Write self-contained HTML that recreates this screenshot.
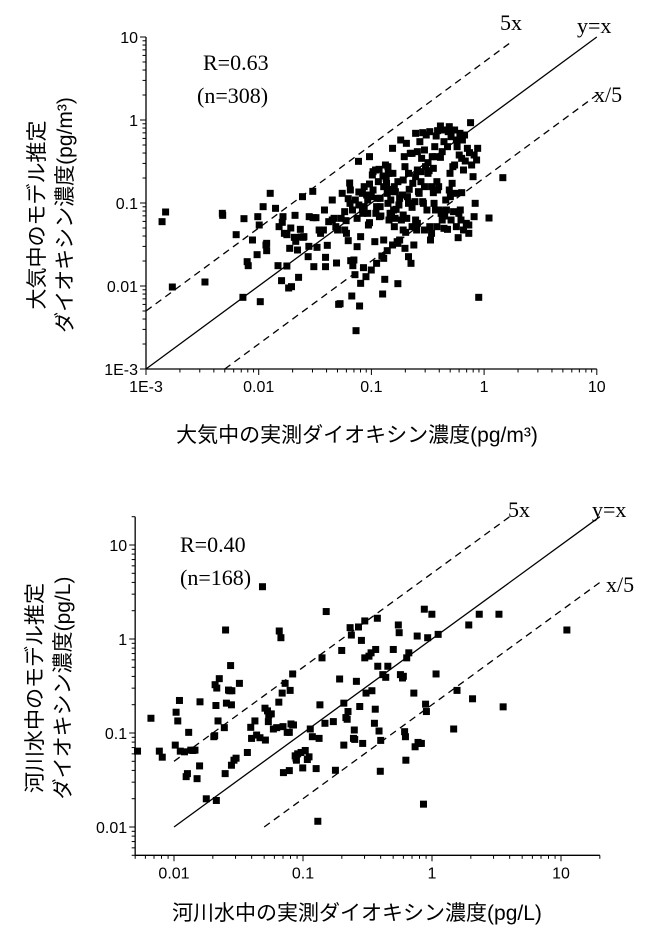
<!DOCTYPE html>
<html><head><meta charset="utf-8">
<style>
body{margin:0;background:#fff;width:650px;height:926px;overflow:hidden}
svg{display:block}
.t{font-family:"Liberation Sans","Noto Sans CJK JP",sans-serif;font-size:16px;fill:#000}
.s{font-family:"Liberation Serif",serif;font-size:22px;fill:#000}
.j{font-family:"Liberation Sans","Noto Sans CJK JP",sans-serif;font-size:21px;fill:#000}
</style></head><body>
<svg id="g" width="650" height="926" xmlns="http://www.w3.org/2000/svg">
<text class="s" x="500" y="30">5x</text>
<text class="s" x="577" y="33">y=x</text>
<text class="s" x="594" y="102">x/5</text>
<text class="s" x="203" y="70">R=0.63</text>
<text class="s" x="197" y="103">(n=308)</text>
<text class="j" x="357" y="442" text-anchor="middle">大気中の実測ダイオキシン濃度(pg/m³)</text>
<text class="j" transform="translate(44,215) rotate(-90)" text-anchor="middle">大気中のモデル推定</text>
<text class="j" transform="translate(72,215) rotate(-90)" text-anchor="middle">ダイオキシン濃度(pg/m³)</text>
<text class="s" x="508" y="517">5x</text>
<text class="s" x="592" y="517">y=x</text>
<text class="s" x="606" y="592">x/5</text>
<text class="s" x="180" y="552">R=0.40</text>
<text class="s" x="180" y="585">(n=168)</text>
<text class="j" x="357" y="920" text-anchor="middle">河川水中の実測ダイオキシン濃度(pg/L)</text>
<text class="j" transform="translate(42,688) rotate(-90)" text-anchor="middle">河川水中のモデル推定</text>
<text class="j" transform="translate(70,688) rotate(-90)" text-anchor="middle">ダイオキシン濃度(pg/L)</text>
</svg>
<script>
(function(){
var S=document.getElementById('g'),NS='http://www.w3.org/2000/svg';
function el(n,a,t){var e=document.createElementNS(NS,n);for(var k in a)e.setAttribute(k,a[k]);if(t!==undefined)e.textContent=t;S.appendChild(e);return e;}
function chart(c){
 var X=function(v){return c.x0+(Math.log10(v)-c.lx0)*c.dx}, Y=function(v){return c.y0-(Math.log10(v)-c.ly0)*c.dy};
 var L=X(c.xmin),R=X(c.xmax),T=Y(c.ymax),B=Y(c.ymin);
 el('line',{x1:L,y1:T,x2:L,y2:B,stroke:'#000','stroke-width':1.3});
 el('line',{x1:L,y1:B,x2:R,y2:B,stroke:'#000','stroke-width':1.3});
 for(var e=-4;e<=2;e++)for(var m=1;m<10;m++){var v=m*Math.pow(10,e);
  if(v>=c.xmin*0.999&&v<=c.xmax*1.001){var x=X(v);el('line',{x1:x,y1:B,x2:x,y2:B+(m==1?6:3.5),stroke:'#000','stroke-width':1});}
  if(v>=c.ymin*0.999&&v<=c.ymax*1.001){var y=Y(v);el('line',{x1:L,y1:y,x2:L-(m==1?6:3.5),y2:y,stroke:'#000','stroke-width':1});}}
 c.xt.forEach(function(p){el('text',{class:'t',x:X(p[0]),y:B+23,'text-anchor':'middle'},p[1]);});
 c.yt.forEach(function(p){el('text',{class:'t',x:L-8,y:Y(p[0])+6,'text-anchor':'end'},p[1]);});
 c.lines.forEach(function(l){el('line',{x1:X(l[0]),y1:Y(l[0]*l[2]),x2:X(l[1]),y2:Y(l[1]*l[2]),stroke:'#000','stroke-width':1.3,'stroke-dasharray':l[3]?'7,5':'none'});});
 c.pts.forEach(function(p){var x=c.fx(p[0]),y=c.fy(p[1]);el('rect',{x:x-3.5,y:y-3.5,width:7,height:7,fill:'#000'});});
}
var ptsA=[[175,665],[185,636],[204,861],[296,846],[345,640],[346,646],[384,704],[406,656],[403,892],[415,785],[418,797],[443,764],[449,675],[452,905],[468,735],[470,752],[502,797],[512,842],[514,667],[516,650],[527,798],[527,704],[532,864],[540,860],[538,684],[550,646],[552,724],[557,750],[560,832],[567,711],[571,590],[573,712],[587,770],[589,739],[600,574],[601,653],[603,800],[609,653],[618,690],[633,630],[636,772],[636,800],[641,736],[655,600],[660,655],[667,789],[665,680],[673,913],[677,911],[680,655],[683,580],[690,635],[694,662],[695,700],[700,596],[704,549],[706,570],[707,782],[710,888],[713,797],[716,780],[712,630],[719,824],[722,992],[725,655],[729,484],[730,576],[732,918],[735,710],[740,580],[741,640],[743,803],[745,560],[752,585],[755,640],[757,675],[760,552],[765,590],[768,525],[770,515],[775,725],[777,510],[778,640],[780,620],[782,595],[788,650],[790,595],[792,648],[795,768],[797,882],[800,720],[803,838],[805,495],[807,535],[808,550],[810,580],[812,610],[813,520],[815,660],[818,640],[820,600],[822,640],[825,575],[825,445],[828,630],[830,680],[832,655],[835,628],[838,725],[840,730],[840,851],[843,615],[845,595],[848,420],[850,660],[853,585],[855,645],[858,470],[860,500],[862,697],[865,655],[867,590],[870,770],[872,568],[875,460],[877,790],[880,622],[882,550],[885,735],[888,605],[890,660],[893,690],[895,510],[898,575],[900,580],[902,425],[905,545],[907,475],[910,605],[912,610],[915,560],[918,500],[920,405],[922,630],[925,488],[928,512],[930,680],[932,720],[935,560],[937,470],[940,578],[942,610],[944,440],[946,630],[948,408],[950,545],[952,570],[955,560],[957,630],[960,378],[962,640],[965,660],[967,390],[970,425],[972,648],[975,600],[977,630],[980,688],[982,395],[985,570],[988,590],[990,410],[993,550],[995,500],[997,635],[1000,495],[1002,580],[1005,420],[1007,440],[1010,713],[1013,465],[1016,630],[1018,660],[1020,475],[1022,420],[1025,510],[1028,405],[1030,483],[1033,670],[1036,445],[1040,675],[1042,458],[1045,368],[1048,495],[1052,530],[1055,465],[1058,610],[1062,480],[1065,445],[1068,892],[1097,654],[1136,533],[987,520],[1012,640],[1020,578],[960,472],[940,505],[915,450],[895,455],[870,610],[855,690],[833,575],[790,620],[760,668],[740,628],[725,740],[700,722],[690,690],[670,690],[655,660],[645,665],[630,690],[622,700],[612,742],[590,650],[575,710],[565,688],[548,712],[535,745],[520,700],[505,680],[495,625],[480,580],[470,730],[460,620],[445,650],[430,720],[760,470],[787,508],[798,528],[812,500],[826,520],[880,460],[864,430],[890,400],[910,398],[930,395],[952,392],[985,380],[1000,390],[1015,400],[980,440],[965,455],[945,470],[925,520],[905,515],[890,530],[870,520],[855,540],[840,545],[830,560],[818,568],[800,560],[785,545],[770,570],[755,600],[745,620],[730,615],[720,600],[705,610],[880,680],[895,670],[915,690],[935,700],[950,680],[970,685],[990,660],[1005,680],[1025,690],[1040,700],[1055,650],[860,745],[845,720],[825,735],[810,752],[800,775],[780,790],[765,810],[750,830],[735,850]];
var ptsB=[[328,808],[360,710],[380,808],[387,826],[418,790],[420,692],[424,718],[428,657],[430,808],[440,810],[444,884],[447,875],[450,752],[455,805],[460,806],[465,805],[470,890],[476,852],[477,661],[492,950],[510,765],[512,762],[513,610],[515,672],[516,955],[517,620],[520,718],[523,592],[535,738],[537,875],[538,447],[540,665],[545,626],[548,628],[550,553],[552,670],[552,850],[553,628],[558,835],[563,829],[571,606],[590,812],[598,737],[600,770],[608,718],[612,760],[620,768],[626,318],[632,680],[633,775],[638,688],[640,720],[641,700],[647,697],[652,742],[660,738],[665,662],[666,450],[670,470],[673,635],[675,735],[676,872],[680,606],[685,752],[690,752],[690,866],[692,627],[694,727],[698,578],[698,730],[700,730],[704,822],[706,829],[707,835],[710,816],[718,812],[722,858],[728,806],[733,833],[737,825],[740,742],[745,765],[754,860],[758,1017],[761,770],[763,670],[768,530],[775,725],[778,392],[795,720],[800,865],[810,593],[815,508],[820,790],[820,665],[825,708],[828,713],[830,690],[835,440],[838,462],[843,770],[845,745],[846,773],[850,600],[855,438],[858,675],[862,478],[865,785],[870,420],[870,530],[873,635],[880,525],[885,515],[887,628],[893,725],[895,683],[896,505],[900,412],[901,555],[904,748],[908,776],[907,868],[913,580],[920,588],[925,555],[938,505],[950,432],[952,455],[955,580],[960,590],[962,585],[965,750],[967,765],[968,835],[970,530],[975,515],[987,635],[990,795],[995,465],[997,782],[1000,785],[1005,785],[1010,966],[1012,385],[1015,668],[1017,690],[1020,470],[1030,400],[1040,578],[1045,460],[1082,742],[1090,627],[1118,432],[1127,652],[1143,400],[1190,400],[1200,676],[1352,447]];
chart({x0:146,lx0:-3,dx:112.7,y0:369,ly0:-3,dy:83,xmin:1e-3,xmax:10,ymin:1e-3,ymax:10,
 xt:[[1e-3,'1E-3'],[0.01,'0.01'],[0.1,'0.1'],[1,'1'],[10,'10']],
 yt:[[1e-3,'1E-3'],[0.01,'0.01'],[0.1,'0.1'],[1,'1'],[10,'10']],
 lines:[[1e-3,10,1,0],[1e-3,1.8,5,1],[5e-3,10,0.2,1]],
 pts:ptsA,fx:function(z){return 100+z/2.82},fy:function(z){return z/3}});
chart({x0:174,lx0:-2,dx:129,y0:827,ly0:-2,dy:94,xmin:0.005,xmax:20,ymin:0.005,ymax:20,
 xt:[[0.01,'0.01'],[0.1,'0.1'],[1,'1'],[10,'10']],
 yt:[[0.01,'0.01'],[0.1,'0.1'],[1,'1'],[10,'10']],
 lines:[[0.01,20,1,0],[0.01,4,5,1],[0.05,20,0.2,1]],
 pts:ptsB,fx:function(z){return z/2.385},fy:function(z){return 480+z/2.98}});
})();
</script>
</body></html>
